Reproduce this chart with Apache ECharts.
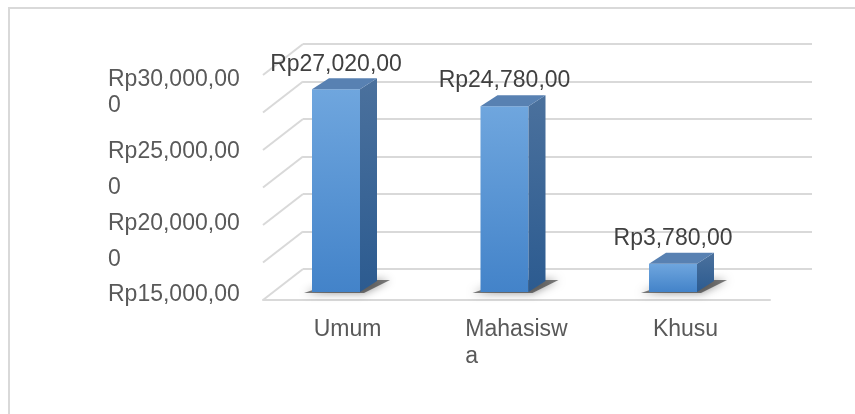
<!DOCTYPE html>
<html>
<head>
<meta charset="utf-8">
<script src="https://cdn.jsdelivr.net/npm/echarts@6/dist/echarts.min.js"></script>
<style>html,body{margin:0;padding:0;background:#fff}#c{width:855px;height:414px}</style>
</head>
<body>
<div id="c"></div>
<script>
const categories = ['Umum', 'Mahasiswa', 'Khusu'];
const categoryLabels = ['Umum', 'Mahasisw\na', 'Khusu'];
const values = [27020000, 24780000, 3780000];
const valueLabels = ['Rp27,020,00', 'Rp24,780,00', 'Rp3,780,00'];
const tickValues = [0, 5000000, 10000000, 15000000, 20000000, 25000000, 30000000];
const tickLabels = ['Rp15,000,00', '0', 'Rp20,000,00', '0', 'Rp25,000,00', '0', 'Rp30,000,00'];

const FONT = '"Liberation Sans", Arial, sans-serif';
const TXT = '#595959';
const GRIDC = '#d9d9d9';
const WALL_DX = -40, WALL_DY = 31;
const BAR_HW = 24, BAR_DX = 17, BAR_DY = -11;

const chart = echarts.init(document.getElementById('c'));

function wallItem(params, api) {
  const cs = params.coordSys;
  const p = api.coord([0, api.value(1)]);
  const x0 = cs.x;
  return {
    type: 'line',
    shape: { x1: x0, y1: p[1], x2: x0 + WALL_DX, y2: p[1] + WALL_DY },
    style: { stroke: GRIDC, lineWidth: 2 }
  };
}

function barItem(params, api) {
  const idx = api.value(0);
  const top = api.coord([idx, api.value(1)]);
  const bot = api.coord([idx, 0]);
  const cx = top[0], ty = top[1], by = bot[1];
  const l = cx - BAR_HW, r = cx + BAR_HW;
  return {
    type: 'group',
    children: [
      { type: 'polygon',
        shape: { points: [[l - 8, by + 1], [r + 4, by + 1], [r + 30, by - 12], [l + 30, by - 12]] },
        style: { fill: 'rgba(40,40,40,0.6)', shadowBlur: 9, shadowColor: 'rgba(0,0,0,0.7)' } },
      { type: 'rect', shape: { x: l, y: ty, width: r - l, height: by - ty },
        style: { fill: new echarts.graphic.LinearGradient(0, 0, 0, 1, [
          { offset: 0, color: '#6fa6de' }, { offset: 1, color: '#4383c9' }]) } },
      { type: 'polygon',
        shape: { points: [[r, ty], [r + BAR_DX, ty + BAR_DY], [r + BAR_DX, by + BAR_DY], [r, by]] },
        style: { fill: new echarts.graphic.LinearGradient(0, 0, 0, 1, [
          { offset: 0, color: '#4b719d' }, { offset: 1, color: '#2c5b90' }]) } },
      { type: 'polygon',
        shape: { points: [[l, ty], [l + BAR_DX, ty + BAR_DY], [r + BAR_DX, ty + BAR_DY], [r, ty]] },
        style: { fill: '#5881b2' } },
      { type: 'text',
        style: { text: valueLabels[idx], x: cx, y: ty - 25, align: 'center', verticalAlign: 'middle',
          fontSize: 23, fontFamily: FONT, fill: '#404040' } }
    ]
  };
}

chart.setOption({
  animation: false,
  backgroundColor: '#fff',
  graphic: [{
    type: 'rect', shape: { x: 9, y: 8, width: 900, height: 450 },
    style: { fill: 'none', stroke: GRIDC, lineWidth: 2 }, z: 0
  }],
  grid: [
    { left: 303, width: 509, top: 44, height: 225 },
    { left: 251.75, width: 505.5, top: 67, height: 225 },
    { left: 263, width: 507, top: 75, height: 225 },
    { left: 263, width: 507, top: 80, height: 215 }
  ],
  xAxis: [
    { gridIndex: 0, type: 'category', data: categories, show: false },
    { gridIndex: 1, type: 'category', data: categories, show: false },
    { gridIndex: 2, type: 'category', data: categories,
      axisLine: { show: true, lineStyle: { color: GRIDC, width: 2 } },
      axisTick: { show: false },
      axisLabel: {
        margin: 16, color: TXT, fontSize: 23, fontFamily: FONT, lineHeight: 27,
        formatter: function (v) { return '{l|' + categoryLabels[categories.indexOf(v)] + '}'; },
        rich: { l: { align: 'left', fontSize: 23, fontFamily: FONT, color: TXT, lineHeight: 27 } }
      } },
    { gridIndex: 3, type: 'category', data: categories, show: false }
  ],
  yAxis: [
    { gridIndex: 0, type: 'value', min: 0, max: 30000000, interval: 5000000,
      axisLine: { show: false }, axisTick: { show: false }, axisLabel: { show: false },
      splitLine: { show: true, lineStyle: { color: GRIDC, width: 2 } } },
    { gridIndex: 1, type: 'value', min: 0, max: 30000000, interval: 5000000, show: false,
      splitLine: { show: false } },
    { gridIndex: 2, type: 'value', min: 0, max: 30000000, interval: 5000000, show: false,
      splitLine: { show: false } },
    { gridIndex: 3, type: 'value', min: 0, max: 30000000, interval: 5000000,
      axisLine: { show: false }, axisTick: { show: false }, splitLine: { show: false },
      axisLabel: {
        align: 'left', margin: 155, color: TXT, fontSize: 23, fontFamily: FONT,
        formatter: function (v) {
          const i = Math.round(v / 5000000);
          return (i === 5 ? '{u|' : '{n|') + tickLabels[i] + '}';
        },
        rich: {
          n: { fontSize: 23, fontFamily: FONT, color: TXT },
          u: { fontSize: 23, fontFamily: FONT, color: TXT, padding: [0, 0, 20, 0] }
        }
      } }
  ],
  series: [
    { type: 'custom', xAxisIndex: 0, yAxisIndex: 0, renderItem: wallItem,
      data: tickValues.map(function (v) { return [0, v]; }), silent: true, z: 1 },
    { type: 'custom', xAxisIndex: 1, yAxisIndex: 1, renderItem: barItem,
      data: values.map(function (v, i) { return [i, v]; }), silent: true, z: 5 }
  ]
});
</script>
</body>
</html>
